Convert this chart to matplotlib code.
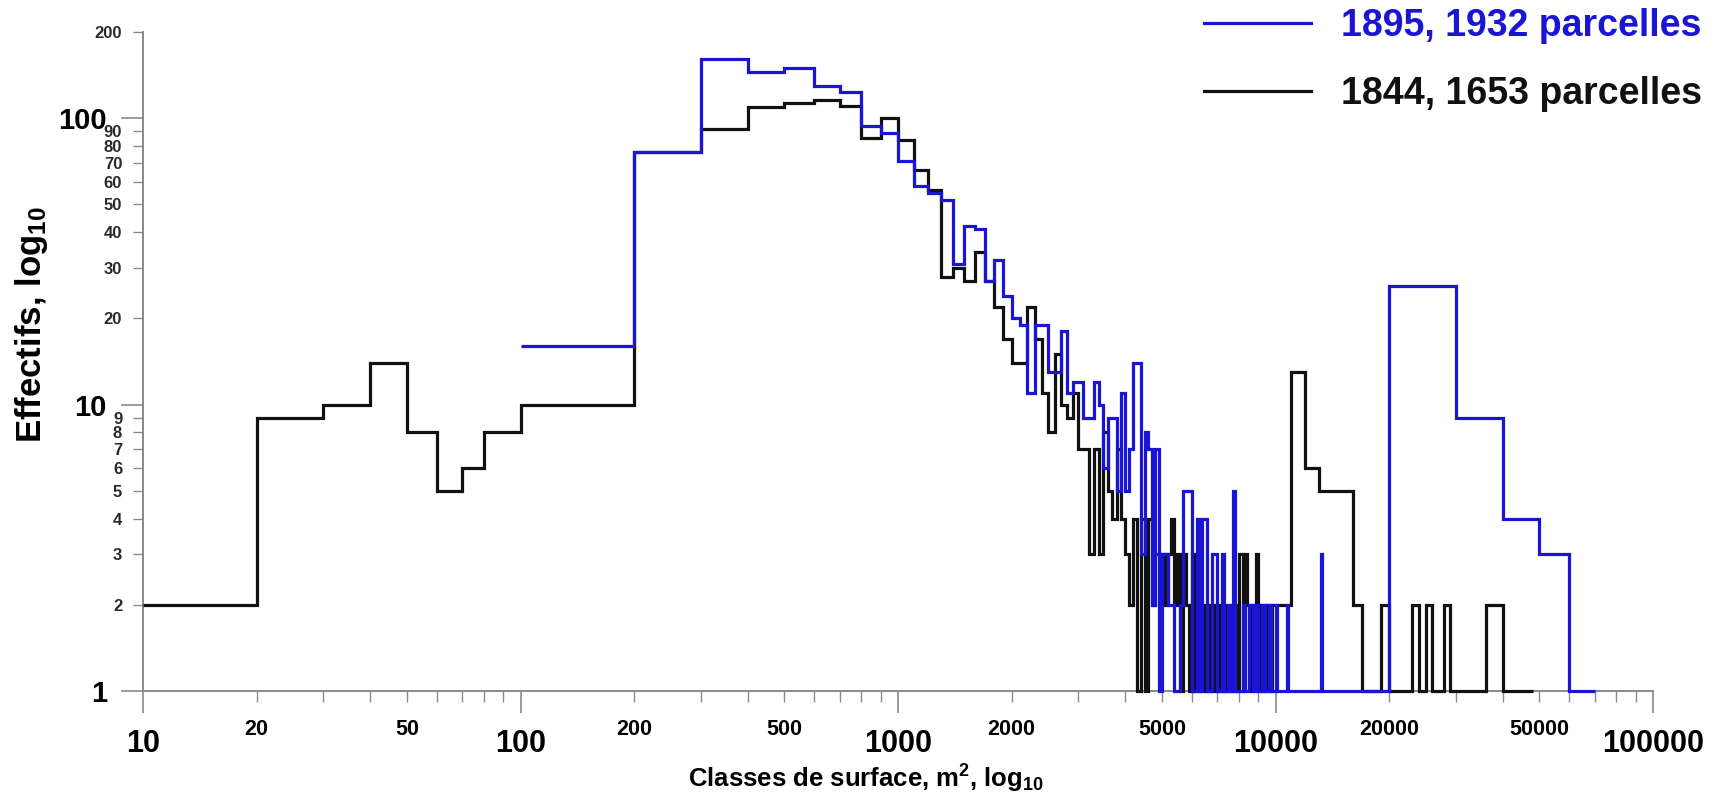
import numpy as np
import matplotlib
matplotlib.use("Agg")
import matplotlib.pyplot as plt
from matplotlib.lines import Line2D
from matplotlib.ticker import FixedLocator, FixedFormatter

plt.rcParams["font.family"] = ["Liberation Sans", "DejaVu Sans"]
plt.rcParams["mathtext.fontset"] = "custom"
plt.rcParams["mathtext.rm"] = "Liberation Sans:bold"
plt.rcParams["mathtext.it"] = "Liberation Sans:bold"
plt.rcParams["mathtext.bf"] = "Liberation Sans:bold"

# --- données : classes de surface (m2) et effectifs ---
# 1844 : classes fines de 10 à 200 m2
black_low_edges = [10, 20, 30, 40, 50, 60, 70, 80, 100, 200]
black_low_counts = [2, 9, 10, 14, 8, 5, 6, 8, 10]

# 1895 : première classe 100-200 m2
blue_low_edges = [100, 200]
blue_low_counts = [16]

# classes de 100 m2 entre 200 et 10000 m2
mid_edges = np.arange(200, 10001, 100)

black_mid_counts = [
    76, 92, 109, 113, 116, 110, 85, 100,
    84, 66, 56, 28, 30, 27, 34, 27, 22, 17,
    14, 14, 22, 17, 11, 8, 15, 10, 9, 11,
    7, 7, 3, 7, 3, 8, 5, 4, 7, 4,
    3, 2, 4, 1, 4, 1, 4, 2, 3, 3,
    3, 2, 3, 4, 2, 3, 1, 3, 2, 1,
    3, 1, 2, 1, 1, 2, 1, 2, 1, 2,
    1, 2, 1, 2, 1, 1, 2, 1, 2, 1,
    3, 3, 1, 3, 2, 2, 1, 2, 2, 3,
    2, 1, 2, 2, 1, 2, 2, 1, 2, 2,
]

blue_mid_counts = [
    76, 161, 145, 150, 130, 123, 94, 89,
    71, 58, 55, 52, 31, 42, 41, 27, 32, 24,
    20, 19, 11, 19, 19, 13, 13, 18, 11, 12,
    12, 9, 9, 12, 10, 6, 9, 9, 5, 11,
    5, 7, 14, 14, 3, 8, 7, 2, 7, 1,
    3, 3, 2, 2, 1, 1, 2, 5, 5, 5,
    1, 1, 4, 1, 4, 4, 1, 1, 3, 3,
    1, 1, 3, 1, 1, 2, 1, 5, 1, 1,
    1, 1, 2, 1, 1, 2, 2, 1, 1, 2,
    1, 1, 2, 2, 1, 1, 2, 1, 1, 1,
]

# grandes classes au-delà de 10000 m2
black_tail_edges = [10000, 11000, 12000, 13000, 16000, 17000, 19000, 20000,
                    23000, 24000, 25000, 26000, 28000, 29000, 36000, 40000, 48000]
black_tail_counts = [2, 13, 6, 5, 2, 1, 2, 1, 2, 1, 2, 1, 2, 1, 2, 1]

blue_tail_edges = [10000, 10100, 10700, 10800, 13200, 13300,
                   20000, 30000, 40000, 50000, 60000, 70000]
blue_tail_counts = [2, 1, 2, 1, 3, 1, 26, 9, 4, 3, 1]

labels = ["1895, 1932 parcelles", "1844, 1653 parcelles"]
blue = "#1a14d4"
black = "#111111"

black_edges = np.concatenate([black_low_edges[:-1], mid_edges[:-1], black_tail_edges])
black_counts = np.concatenate([black_low_counts, black_mid_counts, black_tail_counts])
blue_edges = np.concatenate([blue_low_edges[:-1], mid_edges[:-1], blue_tail_edges])
blue_counts = np.concatenate([blue_low_counts, blue_mid_counts, blue_tail_counts])

W, H = 1720, 798
fig = plt.figure(figsize=(W / 100, H / 100), dpi=100)
ax = fig.add_axes([143 / W, 1 - 691 / H, (1653 - 143) / W, (691 - 32) / H])

ax.stairs(black_counts, black_edges, baseline=None, color=black, lw=2.3, clip_on=False, zorder=3)
ax.stairs(blue_counts, blue_edges, baseline=None, color=blue, lw=2.3, clip_on=False, zorder=4)

ax.set_xscale("log")
ax.set_yscale("log")
ax.set_xlim(10, 100000)
ax.set_ylim(1, 200)

for s in ["top", "right"]:
    ax.spines[s].set_visible(False)
for s in ["left", "bottom"]:
    ax.spines[s].set_color("#8a8a8a")
    ax.spines[s].set_linewidth(1.4)

# axe x
x_major = [10, 100, 1000, 10000, 100000]
x_minor = [m * d for d in [10, 100, 1000, 10000] for m in range(2, 10)]
x_minor_lab = [str(v) if str(v)[0] in "25" else "" for v in x_minor]
ax.xaxis.set_major_locator(FixedLocator(x_major))
ax.xaxis.set_major_formatter(FixedFormatter([str(v) for v in x_major]))
ax.xaxis.set_minor_locator(FixedLocator(x_minor))
ax.xaxis.set_minor_formatter(FixedFormatter(x_minor_lab))

# axe y
y_major = [1, 10, 100]
y_minor = list(range(2, 10)) + list(range(20, 100, 10)) + [200]
ax.yaxis.set_major_locator(FixedLocator(y_major))
ax.yaxis.set_major_formatter(FixedFormatter([str(v) for v in y_major]))
ax.yaxis.set_minor_locator(FixedLocator(y_minor))
ax.yaxis.set_minor_formatter(FixedFormatter([str(v) for v in y_minor]))

ax.tick_params(axis="x", which="major", length=16, width=1.2, color="#8a8a8a",
               labelsize=22, pad=11)
ax.tick_params(axis="x", which="minor", length=8, width=1.0, color="#8a8a8a",
               labelsize=15.5, pad=12)
ax.tick_params(axis="y", which="major", length=16, width=1.2, color="#8a8a8a",
               labelsize=21, pad=10)
ax.tick_params(axis="y", which="minor", length=7, width=1.0, color="#8a8a8a",
               labelsize=12, pad=8, labelcolor="#2a2a2a")
for lab in ax.get_xticklabels(which="both") + ax.get_yticklabels(which="both"):
    lab.set_fontweight("bold")

fig.text(866 / W, 1 - 779 / H, r"Classes de surface, m$^{2}$, log$_{10}$",
         ha="center", va="center", fontsize=18.5, fontweight="bold")
fig.text(31 / W, 1 - 325 / H, r"Effectifs, log$_{10}$", rotation=90,
         ha="center", va="center", fontsize=25, fontweight="bold")

handles = [Line2D([], [], color=blue, lw=2.3), Line2D([], [], color=black, lw=2.3)]
fig.legend(handles, labels, loc="upper right", bbox_to_anchor=(1702 / W, 1 - 8 / H),
           frameon=False, prop={"size": 27, "weight": "bold"}, labelcolor="linecolor",
           handlelength=2.85, handletextpad=0.8, labelspacing=0.85,
           borderpad=0, borderaxespad=0)

fig.savefig("out.png", dpi=100)
